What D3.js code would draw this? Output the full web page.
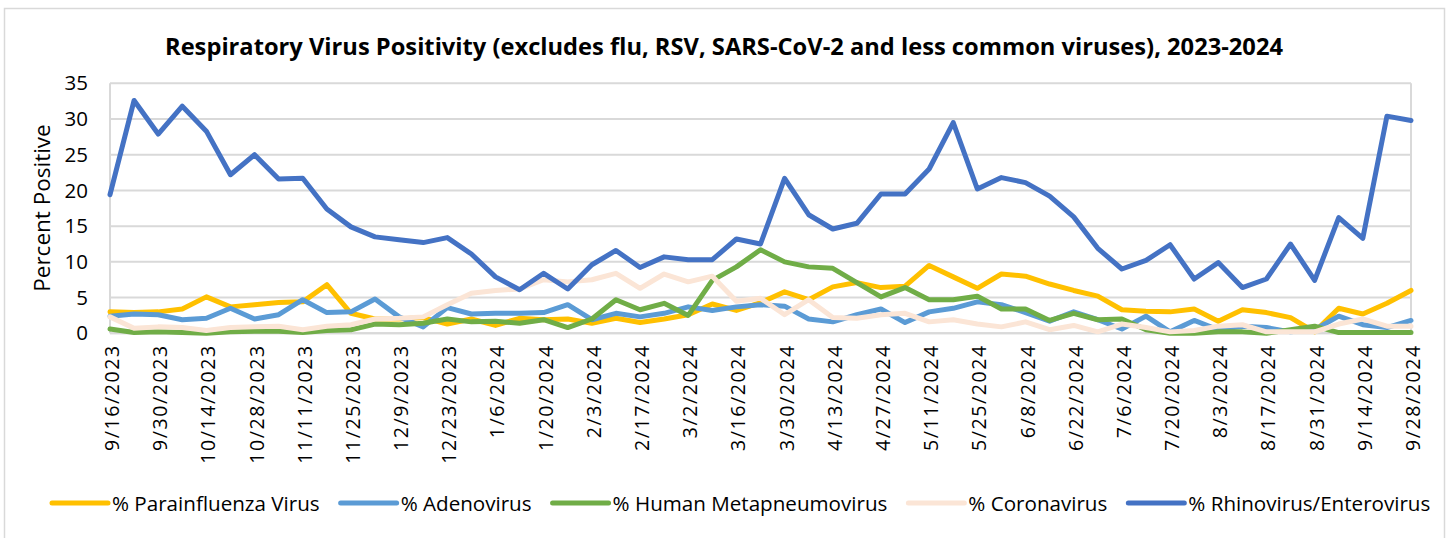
<!DOCTYPE html>
<html>
<head>
<meta charset="utf-8">
<script src="https://cdn.jsdelivr.net/npm/d3@7"></script>
<style>
  html, body { margin: 0; padding: 0; background: #ffffff; }
  svg { display: block; }
</style>
</head>
<body>
<svg id="chart" width="1449" height="538"></svg>
<script>
const titleText = "Respiratory Virus Positivity (excludes flu, RSV, SARS-CoV-2 and less common viruses), 2023-2024";
const yAxisTitle = "Percent Positive";

const dates = [
  "9/16/2023","9/23/2023","9/30/2023","10/7/2023","10/14/2023","10/21/2023","10/28/2023",
  "11/4/2023","11/11/2023","11/18/2023","11/25/2023","12/2/2023","12/9/2023","12/16/2023",
  "12/23/2023","12/30/2023","1/6/2024","1/13/2024","1/20/2024","1/27/2024","2/3/2024",
  "2/10/2024","2/17/2024","2/24/2024","3/2/2024","3/9/2024","3/16/2024","3/23/2024",
  "3/30/2024","4/6/2024","4/13/2024","4/20/2024","4/27/2024","5/4/2024","5/11/2024",
  "5/18/2024","5/25/2024","6/1/2024","6/8/2024","6/15/2024","6/22/2024","6/29/2024",
  "7/6/2024","7/13/2024","7/20/2024","7/27/2024","8/3/2024","8/10/2024","8/17/2024",
  "8/24/2024","8/31/2024","9/7/2024","9/14/2024","9/21/2024","9/28/2024"
];

const xTickLabels = [
  "9/16/2023","9/30/2023","10/14/2023","10/28/2023","11/11/2023","11/25/2023","12/9/2023",
  "12/23/2023","1/6/2024","1/20/2024","2/3/2024","2/17/2024","3/2/2024","3/16/2024",
  "3/30/2024","4/13/2024","4/27/2024","5/11/2024","5/25/2024","6/8/2024","6/22/2024",
  "7/6/2024","7/20/2024","8/3/2024","8/17/2024","8/31/2024","9/14/2024","9/28/2024"
];

const yTicks = [0, 5, 10, 15, 20, 25, 30, 35];

const seriesNames = [
  "% Parainfluenza Virus",
  "% Adenovirus",
  "% Human Metapneumovirus",
  "% Coronavirus",
  "% Rhinovirus/Enterovirus"
];

const seriesColors = ["#FFC000", "#5B9BD5", "#70AD47", "#FBE5D6", "#4472C4"];

const parainfluenza = [
  3.0, 2.9, 3.0, 3.4, 5.1, 3.7, 4.0, 4.3, 4.4, 6.8,
  2.8, 2.0, 2.0, 2.2, 1.3, 2.0, 1.1, 2.1, 1.9, 2.0,
  1.4, 2.1, 1.5, 2.0, 2.6, 4.1, 3.2, 4.3, 5.8, 4.7,
  6.5, 7.1, 6.4, 6.6, 9.5, 7.9, 6.3, 8.3, 8.0, 6.9,
  6.0, 5.2, 3.3, 3.1, 3.0, 3.4, 1.7, 3.3, 2.9, 2.2,
  0.2, 3.5, 2.7, 4.2, 6.0
];

const adenovirus = [
  2.4, 2.7, 2.6, 1.9, 2.1, 3.5, 2.0, 2.6, 4.7, 2.9,
  3.0, 4.8, 2.3, 0.9, 3.6, 2.7, 2.8, 2.8, 2.9, 4.0,
  1.9, 2.8, 2.3, 2.8, 3.7, 3.2, 3.7, 4.0, 3.8, 2.0,
  1.6, 2.6, 3.4, 1.5, 3.0, 3.5, 4.4, 4.0, 2.9, 1.7,
  3.0, 1.9, 0.6, 2.4, 0.2, 1.8, 0.5, 1.0, 0.8, 0.2,
  0.5, 2.4, 1.2, 0.8, 1.8
];

const metapneumovirus = [
  0.6, 0.1, 0.2, 0.1, 0.0, 0.2, 0.3, 0.3, 0.1, 0.4,
  0.5, 1.3, 1.2, 1.4, 2.0, 1.6, 1.7, 1.4, 1.9, 0.8,
  2.0, 4.7, 3.3, 4.2, 2.5, 7.4, 9.3, 11.7, 10.0, 9.3,
  9.1, 7.1, 5.1, 6.4, 4.7, 4.7, 5.2, 3.4, 3.4, 1.8,
  2.8, 1.9, 2.0, 0.5, 0.0, 0.0, 0.2, 0.2, 0.0, 0.5,
  1.0, 0.1, 0.1, 0.1, 0.1
];

const coronavirus = [
  2.3, 0.7, 0.9, 0.8, 0.4, 0.8, 0.9, 1.0, 0.5, 1.0,
  1.2, 2.0, 2.1, 2.3, 4.0, 5.6, 6.0, 6.2, 7.5, 7.2,
  7.5, 8.4, 6.3, 8.3, 7.2, 8.0, 4.5, 4.9, 2.6, 4.7,
  2.2, 2.1, 2.6, 2.8, 1.6, 1.9, 1.3, 0.9, 1.6, 0.5,
  1.1, 0.2, 1.3, 0.8, 0.2, 0.4, 1.0, 1.2, 0.2, 0.2,
  0.2, 1.3, 2.0, 1.0, 1.0
];

const rhinovirus = [
  19.4, 32.6, 27.9, 31.8, 28.3, 22.2, 25.0, 21.6, 21.7, 17.4,
  14.9, 13.5, 13.1, 12.7, 13.4, 11.1, 7.9, 6.1, 8.4, 6.2,
  9.6, 11.6, 9.2, 10.7, 10.3, 10.3, 13.2, 12.5, 21.7, 16.6,
  14.6, 15.4, 19.5, 19.5, 23.0, 29.5, 20.2, 21.8, 21.1, 19.2,
  16.3, 11.9, 9.0, 10.2, 12.4, 7.6, 9.9, 6.4, 7.6, 12.5,
  7.4, 16.2, 13.3, 30.4, 29.8
];

const seriesValues = [parainfluenza, adenovirus, metapneumovirus, coronavirus, rhinovirus];

// ---------------- layout ----------------
const plot = { left: 110, right: 1411, top: 83.3, bottom: 333.3 };
const FONT = "'Open Sans', 'Noto Sans', sans-serif";

const svg = d3.select("#chart");

// chart frame
svg.append("rect")
  .attr("x", 4.5).attr("y", 8.5)
  .attr("width", 1440).attr("height", 540)
  .attr("fill", "#ffffff")
  .attr("stroke", "#d9d9d9").attr("stroke-width", 1.5);

const x = d3.scalePoint().domain(dates).range([plot.left, plot.right]);
const y = d3.scaleLinear().domain([0, 35]).range([plot.bottom, plot.top]);

// gridlines
svg.append("g").selectAll("line")
  .data(yTicks)
  .join("line")
  .attr("x1", plot.left).attr("x2", plot.right)
  .attr("y1", d => y(d)).attr("y2", d => y(d))
  .attr("stroke", "#d9d9d9").attr("stroke-width", 2);

// plot side borders
svg.append("line").attr("x1", plot.left).attr("x2", plot.left)
  .attr("y1", plot.top).attr("y2", plot.bottom)
  .attr("stroke", "#d9d9d9").attr("stroke-width", 2);
svg.append("line").attr("x1", plot.right).attr("x2", plot.right)
  .attr("y1", plot.top).attr("y2", plot.bottom)
  .attr("stroke", "#d9d9d9").attr("stroke-width", 2);

// Y axis
const yAxis = svg.append("g")
  .attr("transform", `translate(${plot.left},0)`)
  .call(d3.axisLeft(y).tickValues(yTicks).tickSize(0).tickPadding(22).tickFormat(d3.format("d")));
yAxis.select(".domain").remove();
yAxis.selectAll("text")
  .attr("font-family", FONT).attr("font-size", 20.5).attr("fill", "#000");

// X axis
const xAxis = svg.append("g")
  .attr("transform", `translate(0,${plot.bottom})`)
  .call(d3.axisBottom(x).tickValues(xTickLabels).tickSize(0).tickPadding(0));
xAxis.select(".domain").remove();
xAxis.selectAll("text")
  .attr("font-family", FONT).attr("font-size", 19.5).attr("fill", "#000")
  .attr("letter-spacing", "1.6px")
  .attr("text-anchor", "end")
  .attr("dy", null)
  .attr("y", null)
  .attr("transform", "translate(1,11) rotate(-90)")
  .attr("dominant-baseline", "central");

// axis baseline
svg.append("line").attr("x1", plot.left).attr("x2", plot.right)
  .attr("y1", plot.bottom).attr("y2", plot.bottom)
  .attr("stroke", "#d9d9d9").attr("stroke-width", 2);

// lines
const lineGen = d3.line()
  .x((d, i) => x(dates[i]))
  .y(d => y(d));

svg.append("g").selectAll("path")
  .data(seriesValues)
  .join("path")
  .attr("d", d => lineGen(d))
  .attr("fill", "none")
  .attr("stroke", (d, i) => seriesColors[i])
  .attr("stroke-width", 5)
  .attr("stroke-linejoin", "round")
  .attr("stroke-linecap", "round");

// title
svg.append("text")
  .attr("x", 724).attr("y", 46)
  .attr("text-anchor", "middle")
  .attr("dominant-baseline", "central")
  .attr("font-family", FONT).attr("font-weight", "bold").attr("font-size", 23)
  .attr("fill", "#000")
  .attr("textLength", 1118).attr("lengthAdjust", "spacingAndGlyphs")
  .text(titleText);

// y axis title
svg.append("text")
  .attr("transform", "translate(41,208) rotate(-90)")
  .attr("text-anchor", "middle")
  .attr("dominant-baseline", "central")
  .attr("font-family", FONT).attr("font-size", 22.5)
  .attr("fill", "#000")
  .text(yAxisTitle);

// legend
const legend = svg.append("g");
const legendY = 503;
let lx = 52;
seriesNames.forEach((name, i) => {
  legend.append("line")
    .attr("x1", lx).attr("x2", lx + 56)
    .attr("y1", legendY).attr("y2", legendY)
    .attr("stroke", seriesColors[i]).attr("stroke-width", 5)
    .attr("stroke-linecap", "round");
  const t = legend.append("text")
    .attr("x", lx + 60).attr("y", legendY)
    .attr("dominant-baseline", "central")
    .attr("font-family", FONT).attr("font-size", 20.6)
    .attr("fill", "#000")
    .text(name);
  lx += 60 + t.node().getComputedTextLength() + 21;
});
</script>
</body>
</html>
